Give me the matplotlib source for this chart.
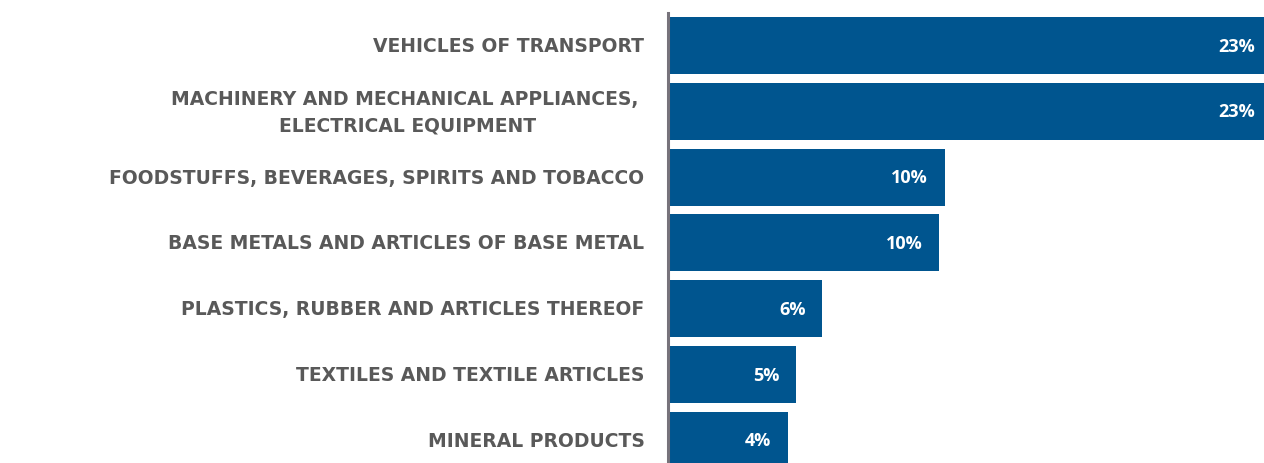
import matplotlib
matplotlib.use("Agg")
import matplotlib.pyplot as plt

# share of exports by product group (%), top to bottom
categories = [
    "VEHICLES OF TRANSPORT",
    "MACHINERY AND MECHANICAL APPLIANCES, \nELECTRICAL EQUIPMENT",
    "FOODSTUFFS, BEVERAGES, SPIRITS AND TOBACCO",
    "BASE METALS AND ARTICLES OF BASE METAL",
    "PLASTICS, RUBBER AND ARTICLES THEREOF",
    "TEXTILES AND TEXTILE ARTICLES",
    "MINERAL PRODUCTS",
]
shares = [22.7, 22.7, 10.4, 10.2, 5.8, 4.8, 4.5]

bar_color = "#00558f"
label_gray = "#595959"

W, H = 1264, 464
fig = plt.figure(figsize=(W / 100, H / 100), dpi=100)

# axes in pixels; the chart is cropped at right and bottom
x0, px_per_unit, xmax = 668, 26.6, 24
y_top, row = 14, 65.8
ymin, ymax = -0.494, 7.0
ax_h = (ymax - ymin) * row
ax = fig.add_axes([x0 / W, (H - y_top - ax_h) / H, xmax * px_per_unit / W, ax_h / H])

pos = list(range(len(categories)))
ax.barh(pos, shares, height=0.866, color=bar_color)
ax.set_xlim(0, xmax)
ax.set_ylim(ymax, ymin)

for s in ["top", "right", "bottom"]:
    ax.spines[s].set_visible(False)
ax.spines["left"].set_color("#77737b")
ax.spines["left"].set_linewidth(2.2)
ax.set_xticks([])
ax.set_yticks(pos)
ax.set_yticklabels(categories, fontsize=13.5, fontweight="bold", color=label_gray,
                   family="DejaVu Sans", linespacing=1.5, multialignment="center")
for t in ax.get_yticklabels():
    t.set_va("center")
ax.tick_params(axis="y", length=0, pad=17)

for i, v in enumerate(shares):
    ax.annotate(f"{round(v)}%", (v, i), xytext=(-12, 0), textcoords="offset points",
                ha="right", va="center", color="white", fontsize=13,
                fontweight="bold", family="Open Sans")

fig.savefig("out.png", dpi=100)
